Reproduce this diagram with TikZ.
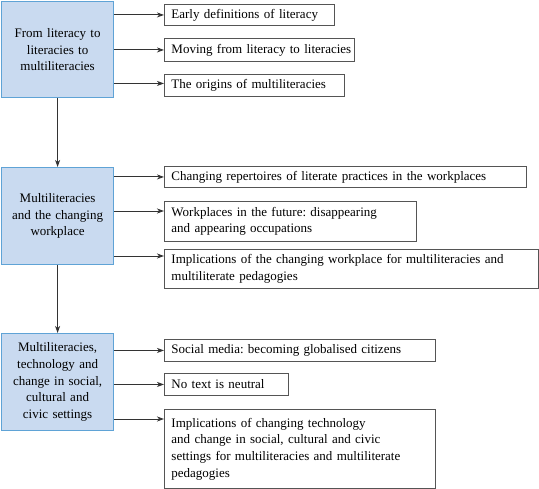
\documentclass[tikz,border=0pt]{standalone}
\usepackage{fontspec}
\setmainfont{Liberation Serif}
\frenchspacing
\usetikzlibrary{arrows.meta,calc}
\definecolor{lfill}{HTML}{C9DAF0}
\definecolor{ldraw}{HTML}{5FA3D6}
\definecolor{rdraw}{HTML}{555555}
\definecolor{adraw}{HTML}{333333}
\tikzset{
  leftbox/.style={draw=ldraw, fill=lfill, line width=1.2pt, anchor=north west,
    minimum width=112pt, text width=106pt, inner xsep=3pt, inner ysep=0pt, align=center,
    font=\fontsize{13}{16.7}\selectfont},
  rightbox/.style={draw=rdraw, line width=0.9pt, anchor=north west, inner xsep=7pt,
    inner ysep=0pt, align=left, font=\fontsize{13}{16.7}\selectfont},
  arr/.style={draw=adraw, line width=0.9pt, -{Stealth[length=7pt,width=5pt,inset=2pt]}}
}
\begin{document}
\begin{tikzpicture}[x=1pt,y=-1pt]
\useasboundingbox (0,0) rectangle (539,489);
% left boxes
\node[leftbox, minimum height=96pt] (L1) at (1,1) {From literacy to\\literacies to\\multiliteracies};
\node[leftbox, minimum height=97pt] (L2) at (1,167) {Multiliteracies\\and the changing\\workplace};
\node[leftbox, minimum height=97pt] (L3) at (1,333) {Multiliteracies,\\technology and\\change in social,\\cultural and\\civic settings};
% right boxes
\node[rightbox, text width=156pt, minimum height=21pt] (R11) at (164,4) {\mbox{Early definitions of literacy}};
\node[rightbox, text width=176pt, minimum height=23pt] (R12) at (164,38) {\mbox{Moving from literacy to literacies}};
\node[rightbox, text width=166pt, minimum height=22pt] (R13) at (164,74) {\mbox{The origins of multiliteracies}};
\node[rightbox, text width=348pt, minimum height=21pt] (R21) at (164,166) {\mbox{Changing repertoires of literate practices in the workplaces}};
\node[rightbox, text width=238pt, minimum height=40pt] (R22) at (164,201) {\mbox{Workplaces in the future: disappearing}\\\mbox{and appearing occupations}};
\node[rightbox, text width=360pt, minimum height=39pt] (R23) at (164,249) {\mbox{Implications of the changing workplace for multiliteracies and}\\\mbox{multiliterate pedagogies}};
\node[rightbox, text width=257pt, minimum height=22pt] (R31) at (164,339) {\mbox{Social media: becoming globalised citizens}};
\node[rightbox, text width=110pt, minimum height=22pt] (R32) at (164,373) {\mbox{No text is neutral}};
\node[rightbox, text width=257pt, minimum height=79pt] (R33) at (164,409) {\mbox{Implications of changing technology}\\\mbox{and change in social, cultural and civic}\\\mbox{settings for multiliteracies and multiliterate}\\\mbox{pedagogies}};
% vertical arrows
\draw[arr] (L1.south) -- (L2.north);
\draw[arr] (L2.south) -- (L3.north);
% horizontal arrows
\draw[arr] (L1.east |- R11.west) -- (R11.west);
\draw[arr] (L1.east |- R12.west) -- (R12.west);
\draw[arr] ($(L1.east |- R13.west)+(0,-2)$) -- ($(R13.west)+(0,-2)$);
\draw[arr] (L2.east |- R21.west) -- (R21.west);
\coordinate (c22) at ($(R22.north west)+(0,10)$);
\draw[arr] (L2.east |- c22) -- (c22);
\coordinate (c23) at ($(R23.north west)+(0,7)$);
\draw[arr] (L2.east |- c23) -- (c23);
\draw[arr] (L3.east |- R31.west) -- (R31.west);
\draw[arr] (L3.east |- R32.west) -- (R32.west);
\coordinate (c33) at ($(R33.north west)+(0,10)$);
\draw[arr] (L3.east |- c33) -- (c33);
\end{tikzpicture}
\end{document}
